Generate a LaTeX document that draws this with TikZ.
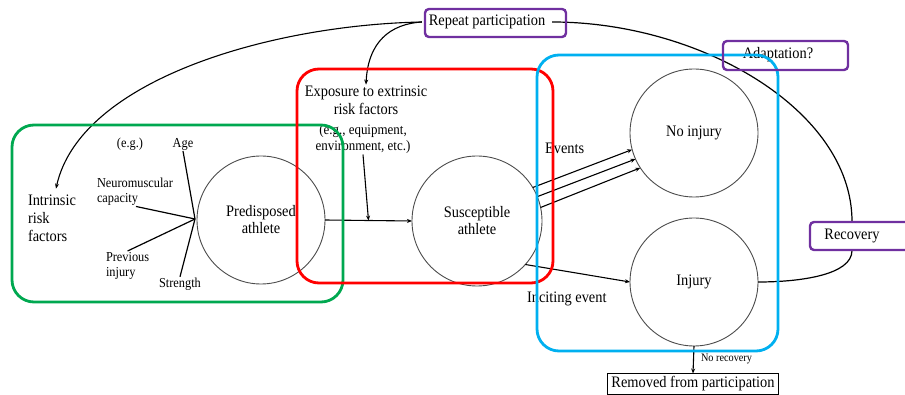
\documentclass[tikz,border=0pt]{standalone}
\usepackage{fontspec}
\setmainfont[FakeStretch=0.9]{Liberation Serif}
\usetikzlibrary{arrows.meta,calc}
\definecolor{grpgreen}{RGB}{0,168,80}
\definecolor{grpred}{RGB}{255,0,0}
\definecolor{grpblue}{RGB}{0,176,240}
\definecolor{tagpurple}{RGB}{112,48,160}
\begin{document}
\begin{tikzpicture}[x=1pt,y=-1pt,
  every node/.style={inner sep=1pt, outer sep=0pt},
  lbl/.style={font=\fontsize{16}{18}\selectfont},
  sml/.style={font=\fontsize{13.7}{15}\selectfont},
  stage/.style={circle, draw=black!70, line width=0.9pt, minimum size=128pt,
    align=center, font=\fontsize{16}{17}\selectfont},
  arr/.style={-{Stealth[length=5pt,width=4pt]}, line width=1.1pt},
  link/.style={line width=1.2pt},
  group/.style={rounded corners=22pt, line width=2.8pt},
  tag/.style={draw=tagpurple, rounded corners=4pt, line width=2.4pt}
]
\useasboundingbox (0,0) rectangle (905,395);

% stages of the athlete
\node[stage] (pred) at (261,220) {Predisposed\\athlete};
\node[stage, minimum size=130pt] (susc) at (477,221) {Susceptible\\athlete};
\node[stage] (noinj) at (694,133) {No injury};
\node[stage] (inj) at (694,282) {Injury};

% intrinsic risk factors
\node[lbl, align=left, anchor=west] (intr) at (27,218) {Intrinsic\\risk\\factors};
\node[sml] (eg) at (130,144) {(e.g.)};
\node[sml] (age) at (183,144) {Age};
\node[sml, align=left, anchor=north west] (neuro) at (96,177) {Neuromuscular\\capacity};
\node[sml, align=left, anchor=north west] (prev) at (105,251) {Previous\\injury};
\node[sml] (str) at (180,284) {Strength};
\coordinate (hub) at (195,219);

% extrinsic risk factors
\node[lbl, align=center] (expo) at (366,100) {Exposure to extrinsic\\risk factors};
\node[font=\fontsize{14.4}{16}\selectfont, align=center] (egs) at (363,139) {(e.g., equipment,\\environment, etc.)};

% event labels
\node[lbl, anchor=west] (evt) at (544,148) {Events};
\node[lbl, anchor=west] (incite) at (526,299) {Inciting event};

% cycle labels
\node[lbl, inner xsep=7pt] (repeat) at (487,22) {Repeat participation};
\node[lbl] (adapt) at (778,55) {Adaptation?};
\node[lbl, minimum height=29pt, inner ysep=0pt] (recov) at (852,236) {Recovery};
\node[lbl, draw, line width=0.8pt, minimum height=21pt, inner ysep=0pt, inner xsep=4pt] (removed) at (693,384) {Removed from participation};
\node[font=\fontsize{11.4}{12}\selectfont, anchor=west] (norec) at (700,359) {No recovery};

% risk factor spokes
\draw[link] (age.south) -- (hub);
\draw[link] ([xshift=40pt]neuro.south west) -- (hub);
\draw[link] (prev.north) -- (hub);
\draw[link] (str.north) -- (hub);

% main flow
\coordinate (join) at ($(pred.east)!0.5!(susc.west)$);
\draw[arr] (pred.east) -- (susc.west);
\draw[arr] (egs.south) -- (join);
\draw[arr] (susc.31) -- (noinj.195);
\draw[arr] (susc.22) -- (noinj.204);
\draw[arr] (susc.12) -- (noinj.213);
\draw[arr] (susc.-42) -- (inj.west);
\draw[arr] (inj.south) -- (removed.north);

% participation loop
\draw[arr] (repeat.west) .. controls (270,25) and (80,80) .. ([xshift=4pt,yshift=5pt]intr.north);
\draw[arr] (repeat.west) .. controls (390,24) and (368,42) .. (expo.north);
\draw[link] (repeat.east) .. controls (700,22) and (852,110) .. (recov.north);
\draw[link] (recov.south) .. controls (852,275) and (800,282) .. (inj.east);

% grouping frames
\draw[group, draw=grpgreen] (12,125) rectangle (343,302);
\draw[group, draw=grpred] (297,69) rectangle (553,283);
\draw[group, draw=grpblue] (537,55) rectangle (778,351);

% label frames
\draw[tag] (425,9) rectangle (566,37);
\draw[tag] (723,41) rectangle (848,70);
\draw[tag] (810,222) rectangle (920,250);
\end{tikzpicture}
\end{document}
